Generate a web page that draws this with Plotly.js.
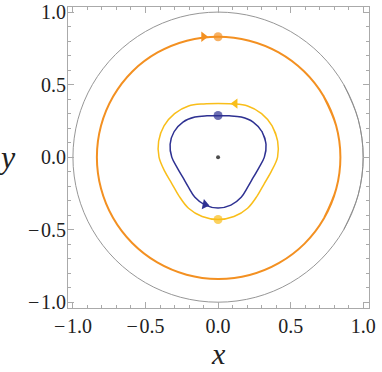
<!DOCTYPE html>
<html>
<head>
<meta charset="utf-8">
<script src="https://cdn.plot.ly/plotly-3.0.1.min.js"></script>
<style>
  html, body { margin: 0; padding: 0; background: #fff; }
  #plot { width: 382px; height: 372px; }
</style>
</head>
<body>
<div id="plot"></div>
<script>
const angles = [0, 15, 30, 45, 60, 75, 90, 105, 120, 135, 150, 165,
                180, 195, 210, 225, 240, 255, 270, 285, 300, 315, 330, 345];
const unitR = [1, 1, 1, 1, 1, 1, 1, 1, 1, 1, 1, 1,
               1, 1, 1, 1, 1, 1, 1, 1, 1, 1, 1, 1];
const orangeR = [0.843, 0.842, 0.840, 0.837, 0.834, 0.831, 0.830, 0.831, 0.833, 0.835, 0.835, 0.835,
                 0.835, 0.835, 0.836, 0.837, 0.838, 0.839, 0.840, 0.841, 0.842, 0.843, 0.843, 0.843];
const yellowR = [0.410, 0.425, 0.430, 0.424, 0.407, 0.380, 0.370, 0.380, 0.407, 0.424, 0.430, 0.424,
                 0.407, 0.380, 0.367, 0.380, 0.407, 0.424, 0.430, 0.424, 0.407, 0.380, 0.367, 0.380];
const blueR = [0.319, 0.342, 0.350, 0.342, 0.319, 0.295, 0.286, 0.295, 0.319, 0.342, 0.350, 0.342,
               0.319, 0.290, 0.280, 0.290, 0.319, 0.342, 0.350, 0.342, 0.319, 0.290, 0.280, 0.290];

// start points and the centre
const dotX = [0, 0, 0, 0];
const dotY = [0.830, 0.287, -0.430, 0];
const dotColors = ['#F39021', '#2E3192', '#F9BE1A', '#000000'];
const dotSizes = [9, 9, 9, 4];

// direction arrows on each curve
const arrowX = [-0.100, 0.118, -0.090];
const arrowY = [0.830, 0.369, -0.327];
const arrowSymbols = ['triangle-right', 'triangle-left', 'triangle-right'];
const arrowAngles = [0, 0, 12];
const arrowColors = ['#F39021', '#F9BE1A', '#2E3192'];

// ticks
const tickVals = [-1, -0.5, 0, 0.5, 1];
const tickText = ['\u2212\u200A1.0', '\u2212\u200A0.5', '0.0', '0.5', '1.0'];

const SERIF = 'Liberation Serif';

// polar radii -> closed x/y path (a couple of points repeated so the spline closes smoothly)
function closedCurve(radii) {
  const n = angles.length;
  const xs = [], ys = [];
  for (let k = -2; k <= n + 2; k++) {
    const i = ((k % n) + n) % n;
    const t = angles[i] * Math.PI / 180;
    xs.push(radii[i] * Math.cos(t));
    ys.push(radii[i] * Math.sin(t));
  }
  return { x: xs, y: ys };
}

function curveTrace(radii, color, width) {
  const c = closedCurve(radii);
  return {
    x: c.x, y: c.y, type: 'scatter', mode: 'lines',
    line: { color: color, width: width, shape: 'spline', smoothing: 1 },
    hoverinfo: 'skip'
  };
}

const traces = [
  curveTrace(unitR, '#8a8a8a', 0.9),
  curveTrace(orangeR, '#F39021', 2),
  curveTrace(yellowR, '#F9BE1A', 1.5),
  curveTrace(blueR, '#2E3192', 1.5),
  {
    x: arrowX, y: arrowY, type: 'scatter', mode: 'markers',
    marker: { symbol: arrowSymbols, angle: arrowAngles, color: arrowColors, size: 9 },
    hoverinfo: 'skip'
  },
  {
    x: dotX, y: dotY, type: 'scatter', mode: 'markers',
    marker: { color: dotColors, size: dotSizes, line: { width: 0 } },
    hoverinfo: 'skip'
  }
];

const axisCommon = {
  tickmode: 'array',
  tickvals: tickVals,
  ticktext: tickText,
  ticks: 'inside',
  ticklen: 6,
  tickcolor: '#aaaaaa',
  tickwidth: 1,
  minor: { dtick: 0.1, ticks: 'inside', ticklen: 3, tickcolor: '#aaaaaa', tickwidth: 1 },
  showline: true,
  linecolor: '#aaaaaa',
  linewidth: 1,
  mirror: 'ticks',
  showgrid: false,
  zeroline: false,
  ticklabeloverflow: 'allow',
  tickfont: { family: SERIF, size: 20, color: '#222' }
};

const layout = {
  width: 382,
  height: 372,
  margin: { l: 68, r: 13, t: 7, b: 64 },
  font: { family: SERIF, color: '#222' },
  showlegend: false,
  paper_bgcolor: '#fff',
  plot_bgcolor: '#fff',
  xaxis: Object.assign({}, axisCommon, { range: [-1.034, 1.040] }),
  yaxis: Object.assign({}, axisCommon, { range: [-1.040, 1.035], ticklabelstandoff: -3 }),
  annotations: [
    {
      text: 'x', xref: 'paper', yref: 'paper', x: 0.5, y: -0.212,
      xanchor: 'center', yanchor: 'bottom', showarrow: false,
      font: { family: SERIF, size: 30, color: '#222', style: 'italic' }
    },
    {
      text: 'y', xref: 'paper', yref: 'y', x: -0.203, y: 0.0,
      xanchor: 'center', yanchor: 'middle', showarrow: false,
      font: { family: SERIF, size: 32, color: '#222', style: 'italic' }
    }
  ]
};

Plotly.newPlot('plot', traces, layout, { staticPlot: true, displayModeBar: false });
</script>
</body>
</html>
